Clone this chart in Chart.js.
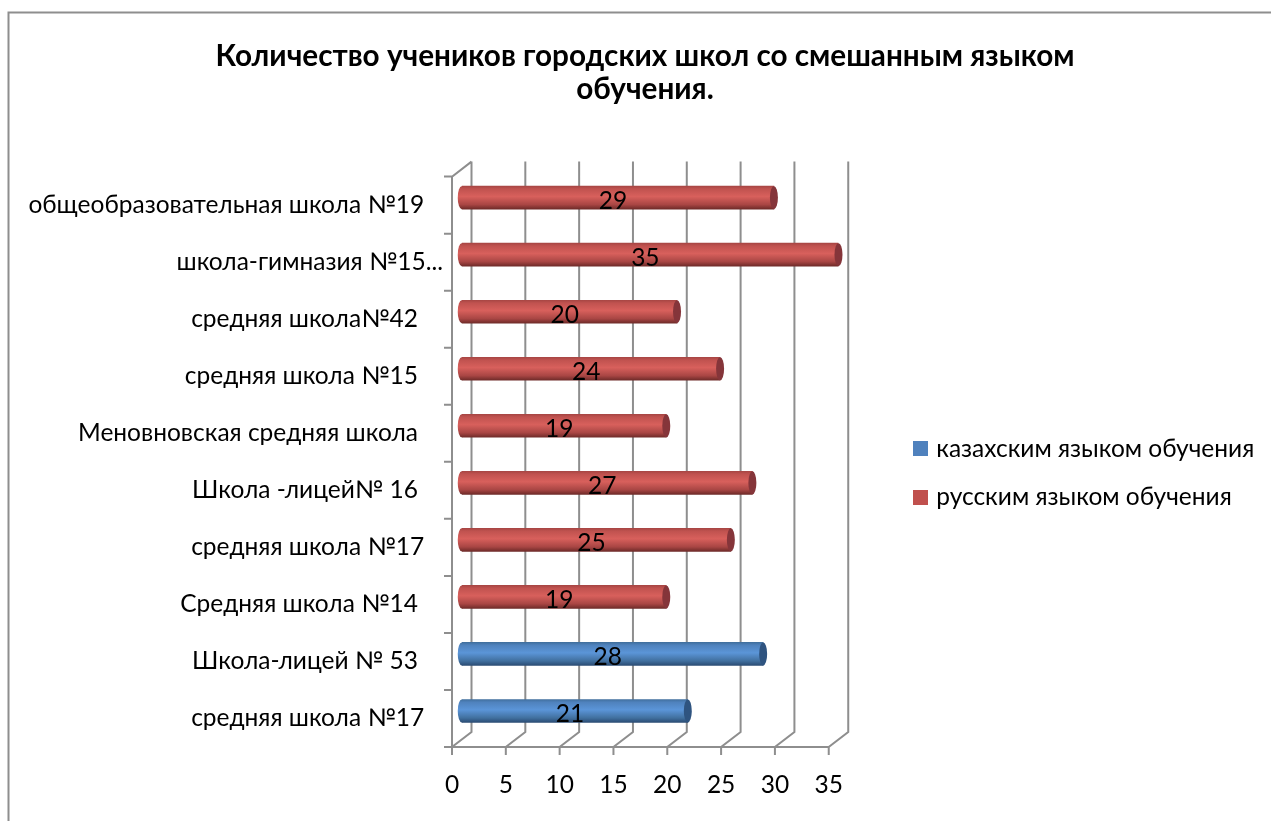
<!DOCTYPE html>
<html>
<head>
<meta charset="utf-8">
<style>
  html, body { margin: 0; padding: 0; background: #fff; overflow: hidden; }
  canvas { display: block; }
</style>
<script src="https://cdn.jsdelivr.net/npm/chart.js@4"></script>
</head>
<body>
<canvas id="myChart" width="1271" height="821"></canvas>
<script>
const titleLines = ['Количество учеников городских школ со смешанным языком', 'обучения.'];
const categories = [
  'средняя школа №17   ', 'Школа-лицей № 53    ', 'Средняя школа №14    ', 'средняя школа №17   ',
  'Школа -лицей№ 16    ', 'Меновновская средняя школа    ', 'средняя школа №15    ',
  'средняя школа№42    ', 'школа-гимназия №15...', 'общеобразовательная школа №19   '
];
const kazakh = [21, 28, null, null, null, null, null, null, null, null];
const russian = [null, null, 19, 25, 27, 19, 24, 20, 35, 29];

const gridColor = '#8e8e8e';
const depthX = 19.5, depthY = 15;
const barH = 23;
const fontName = 'Lato, Carlito, sans-serif';
const textSize = 24.5;

// vertical shading of one bar, so it looks like a cylinder
function tube(ctx, stops) {
  const chart = ctx.chart;
  const y = chart.scales.y.getPixelForValue(ctx.dataIndex);
  const g = chart.ctx.createLinearGradient(0, y - barH / 2, 0, y + barH / 2);
  g.addColorStop(0, stops[0]);
  g.addColorStop(0.12, stops[1]);
  g.addColorStop(0.45, stops[2]);
  g.addColorStop(0.8, stops[3]);
  g.addColorStop(1, stops[4]);
  return g;
}
const redStops = ['#a84644', '#c0524f', '#d8605c', '#a94644', '#6f2b29'];
const blueStops = ['#41709f', '#4f82bd', '#5b95d8', '#41709f', '#2b4c74'];

// legend marker as a small canvas, lets the text sit closer than the default gap
function legendBox(color) {
  const box = document.createElement('canvas');
  box.width = 15;
  box.height = 15;
  const b = box.getContext('2d');
  b.fillStyle = color;
  b.fillRect(0, 0, 15, 15);
  return box;
}

const wallPlugin = {
  id: 'wall',
  beforeDraw(chart) {
    const c = chart.ctx;
    const x = chart.scales.x, y = chart.scales.y;
    const top = chart.chartArea.top, bottom = chart.chartArea.bottom, left = chart.chartArea.left;
    const band = Math.abs(y.getPixelForValue(1) - y.getPixelForValue(0));

    // frame of the chart, only left and top are visible
    c.save();
    c.strokeStyle = '#8e8e8e';
    c.lineWidth = 2;
    c.beginPath();
    c.moveTo(8.5, 821);
    c.lineTo(8.5, 12.5);
    c.lineTo(1271, 12.5);
    c.stroke();

    c.strokeStyle = gridColor;
    c.lineWidth = 2;
    c.beginPath();
    x.ticks.forEach(function (t) {
      const px = x.getPixelForValue(t.value);
      c.moveTo(px + depthX, top - depthY);
      c.lineTo(px + depthX, bottom - depthY);
      c.lineTo(px, bottom);
      c.lineTo(px, bottom + 8);
    });
    // floor line and left wall
    c.moveTo(x.getPixelForValue(35), bottom);
    c.lineTo(left - 8, bottom);
    c.moveTo(left, bottom);
    c.lineTo(left, top);
    c.lineTo(left + depthX, top - depthY);
    for (let i = 0; i <= categories.length; i++) {
      const py = top + i * band;
      c.moveTo(left - 8, py);
      c.lineTo(left, py);
    }
    c.stroke();
    c.restore();
  },
  beforeDatasetsDraw(chart) {
    chart.ctx.save();
    chart.ctx.translate(depthX / 2, -depthY / 2);
  },
  afterDatasetsDraw(chart) {
    const c = chart.ctx;
    const caps = ['#2f5480', '#85353a'];
    chart.data.datasets.forEach(function (ds, di) {
      chart.getDatasetMeta(di).data.forEach(function (bar, i) {
        if (ds.data[i] === null) return;
        // rounded start of the tube
        c.fillStyle = tube({ chart: chart, dataIndex: i }, di === 0 ? blueStops : redStops);
        c.beginPath();
        c.ellipse(bar.base, bar.y, 4, barH / 2, 0, 0, Math.PI * 2);
        c.fill();
        // end of the tube
        c.beginPath();
        c.ellipse(bar.x, bar.y, 4, barH / 2, 0, 0, Math.PI * 2);
        c.fillStyle = caps[di];
        c.fill();
      });
    });
    c.restore();

    // value labels
    c.save();
    c.font = textSize + 'px ' + fontName;
    c.fillStyle = '#000';
    c.textAlign = 'center';
    c.textBaseline = 'middle';
    chart.data.datasets.forEach(function (ds, di) {
      chart.getDatasetMeta(di).data.forEach(function (bar, i) {
        if (ds.data[i] === null) return;
        c.fillText(ds.data[i], (bar.base + bar.x) / 2 + 5, bar.y - 4);
      });
    });
    c.restore();
  },
  afterLayout(chart) {
    // legend sits apart from the plot in the original
    const lg = chart.legend;
    const w = lg.right - lg.left;
    lg.left = 893;
    lg.right = 893 + w;
    lg.top = 300;
    lg.bottom = 646;
    // title is centred on the frame without the legend
    chart.titleBlock.left = 19;
    chart.titleBlock.right = 1271;
  }
};

new Chart(document.getElementById('myChart'), {
  type: 'bar',
  plugins: [wallPlugin],
  data: {
    labels: categories,
    datasets: [
      {
        label: 'казахским языком обучения',
        data: kazakh,
        backgroundColor: function (ctx) { return ctx.chart.scales.y ? tube(ctx, blueStops) : '#4f81bd'; },
        barThickness: barH
      },
      {
        label: 'русским языком обучения',
        data: russian,
        backgroundColor: function (ctx) { return ctx.chart.scales.y ? tube(ctx, redStops) : '#c0504d'; },
        barThickness: barH
      }
    ]
  },
  options: {
    indexAxis: 'y',
    responsive: false,
    animation: false,
    layout: { padding: { left: 19, right: 71, top: 0, bottom: 0 } },
    scales: {
      x: {
        stacked: true,
        min: 0,
        max: 35,
        grid: { display: false },
        border: { display: false },
        ticks: { stepSize: 5, color: '#000', padding: 15, font: { size: textSize, family: fontName } },
        afterFit: function (scale) { scale.height = 74; }
      },
      y: {
        stacked: true,
        reverse: true,
        grid: { display: false },
        border: { display: false },
        ticks: { color: '#000', padding: 1, autoSkip: false, font: { size: textSize, family: fontName } },
        afterFit: function (scale) { scale.width = 433; }
      }
    },
    plugins: {
      tooltip: { enabled: false },
      title: {
        display: true,
        text: titleLines,
        color: '#000',
        font: { size: 29.7, weight: 'bold', family: fontName, lineHeight: 1.13 },
        padding: { top: 39.5, bottom: 70 }
      },
      legend: {
        position: 'right',
        maxWidth: 379,
        labels: {
          color: '#000',
          usePointStyle: true,
          pointStyleWidth: 7,
          boxHeight: 15,
          padding: 24,
          font: { size: textSize, family: fontName },
          generateLabels: function (chart) {
            return [
              { text: chart.data.datasets[0].label, pointStyle: legendBox('#4f81bd'), datasetIndex: 0, lineWidth: 0 },
              { text: chart.data.datasets[1].label, pointStyle: legendBox('#c0504d'), datasetIndex: 1, lineWidth: 0 }
            ];
          }
        }
      }
    }
  }
});
</script>
</body>
</html>
